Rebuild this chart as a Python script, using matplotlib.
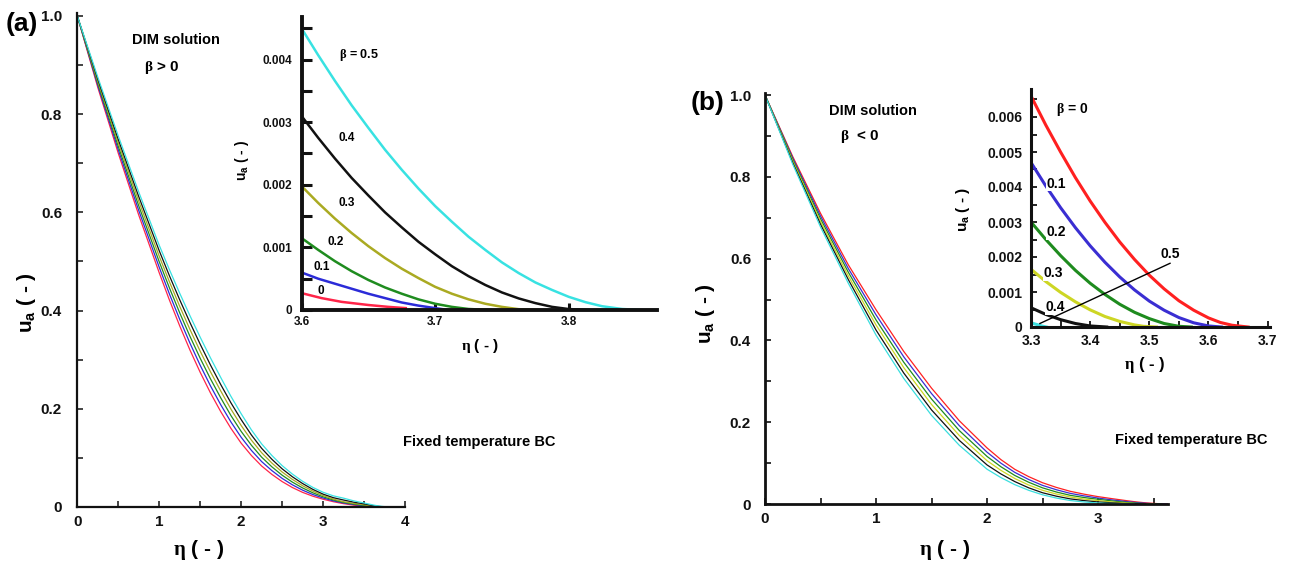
import matplotlib
matplotlib.use("Agg")
import matplotlib.pyplot as plt
from matplotlib.ticker import MultipleLocator

# ---------------- data: panel (a), beta > 0 ----------------
betas_a = ["0", "0.1", "0.2", "0.3", "0.4", "0.5"]
colors_a = ["#ff2448", "#2b2bd8", "#1f8c1f", "#aaaa22", "#111111", "#38e2e2"]

grid_a = [0, 0.25, 0.5, 0.75, 1.0, 1.125, 1.25, 1.375, 1.5, 1.625, 1.75, 1.875, 2.0, 2.125, 2.25, 2.375,
          2.5, 2.625, 2.75, 2.875, 3.0, 3.125, 3.25, 3.375, 3.5]

eta_a0 = grid_a + [3.6, 3.615, 3.63, 3.65, 3.665, 3.678]
u_a0 = [1.0, 0.8545, 0.7205, 0.5945, 0.477, 0.4212, 0.3688, 0.3197, 0.2743, 0.2325, 0.1945, 0.1602, 0.130,
        0.1049, 0.0835, 0.0664, 0.0518, 0.0397, 0.0298, 0.022, 0.0158, 0.0108, 0.0068, 0.0038, 0.0015,
        0.00027, 0.00019, 0.00013, 0.00008, 0.00005, 0.00003]
eta_a1 = grid_a + [3.6, 3.6125, 3.625, 3.6375, 3.65, 3.6625, 3.675, 3.6875, 3.7, 3.71]
u_a1 = [1.0, 0.8587, 0.7275, 0.6039, 0.4882, 0.4336, 0.3821, 0.3337, 0.2886, 0.2469, 0.2085, 0.1732, 0.142,
        0.1153, 0.0925, 0.0741, 0.0583, 0.0452, 0.0343, 0.0254, 0.0183, 0.0125, 0.0081, 0.005, 0.0025,
        0.0006, 0.0005, 0.00042, 0.00034, 0.00026, 0.00019, 0.00012, 0.00007, 0.00003, 0.0]
eta_a2 = grid_a + [3.6, 3.6125, 3.625, 3.6375, 3.65, 3.6625, 3.675, 3.6875, 3.7, 3.7125, 3.725, 3.742]
u_a2 = [1.0, 0.8629, 0.7345, 0.6133, 0.4994, 0.446, 0.3954, 0.3476, 0.3029, 0.2612, 0.2225, 0.1863, 0.154,
        0.1258, 0.1015, 0.0818, 0.0648, 0.0507, 0.0388, 0.0289, 0.0208, 0.0143, 0.0094, 0.006, 0.0035,
        0.00115, 0.00096, 0.00078, 0.00062, 0.00048, 0.00036, 0.00026, 0.00017, 0.0001, 0.00005, 0.000016, 0.0]
eta_a3 = grid_a + [3.6, 3.6125, 3.625, 3.6375, 3.65, 3.6625, 3.675, 3.6875, 3.7, 3.7125, 3.725, 3.7375,
                   3.75, 3.7625, 3.777]
u_a3 = [1.0, 0.8671, 0.7415, 0.6227, 0.5106, 0.4584, 0.4087, 0.3616, 0.3172, 0.2755, 0.2365, 0.1994, 0.166,
        0.1362, 0.1105, 0.0895, 0.0713, 0.0562, 0.0433, 0.0324, 0.0233, 0.0161, 0.0107, 0.0073, 0.0045,
        0.00198, 0.00171, 0.00146, 0.00123, 0.00102, 0.00083, 0.00066, 0.00051, 0.00037, 0.00026, 0.00017,
        0.0001, 0.00005, 0.000013, 0.0]
eta_a4 = grid_a + [3.6, 3.6125, 3.625, 3.6375, 3.65, 3.6625, 3.675, 3.6875, 3.7, 3.7125, 3.725, 3.7375,
                   3.75, 3.7625, 3.775, 3.7875, 3.8, 3.815]
u_a4 = [1.0, 0.8713, 0.7485, 0.6321, 0.5218, 0.4707, 0.422, 0.3757, 0.3315, 0.2893, 0.2496, 0.2122, 0.178,
        0.1467, 0.1195, 0.0972, 0.0778, 0.0616, 0.0478, 0.0359, 0.0262, 0.019, 0.0142, 0.0098, 0.0064,
        0.0031, 0.00275, 0.00242, 0.00211, 0.00183, 0.00156, 0.00132, 0.00109, 0.00089, 0.0007, 0.00054,
        0.0004, 0.00028, 0.000185, 0.00011, 0.00005, 0.000015, 0.0]
eta_a5 = grid_a + [3.6, 3.6125, 3.625, 3.6375, 3.65, 3.6625, 3.675, 3.6875, 3.7, 3.7125, 3.725, 3.7375,
                   3.75, 3.7625, 3.775, 3.7875, 3.8, 3.8125, 3.825, 3.84, 3.855]
u_a5 = [1.0, 0.8755, 0.7555, 0.6415, 0.533, 0.4831, 0.4353, 0.3896, 0.3458, 0.3039, 0.264, 0.2254, 0.19,
        0.1571, 0.1285, 0.1049, 0.0843, 0.0671, 0.0523, 0.0399, 0.030, 0.0227, 0.018, 0.0125, 0.0082,
        0.0045, 0.00407, 0.00366, 0.00327, 0.00291, 0.00256, 0.00224, 0.00194, 0.00166, 0.00141, 0.00117,
        0.00096, 0.00076, 0.00059, 0.00044, 0.00032, 0.00021, 0.000125, 0.00006, 0.000016, 0.0]

# ---------------- data: panel (b), beta < 0 ----------------
betas_b = ["0", "0.1", "0.2", "0.3", "0.4", "0.5"]
colors_b = ["#ff2020", "#3a2ed2", "#1e8b1e", "#cdd624", "#111111", "#3adede"]

grid_b = [0, 0.25, 0.5, 0.75, 1.0, 1.25, 1.5, 1.75, 2.0, 2.125, 2.25, 2.375, 2.5, 2.625, 2.75, 2.875,
          3.0, 3.125, 3.25, 3.3]

eta_b0 = grid_b + [3.325, 3.35, 3.375, 3.4, 3.425, 3.45, 3.475, 3.5, 3.525, 3.55, 3.575, 3.6, 3.62, 3.64, 3.667]
u_b0 = [1.0, 0.8493, 0.7108, 0.585, 0.475, 0.373, 0.2833, 0.2036, 0.1371, 0.1085, 0.0848, 0.0669, 0.052,
        0.0405, 0.031, 0.024, 0.018, 0.0131, 0.0084, 0.0066,
        0.00577, 0.0050, 0.00427, 0.0036, 0.00299, 0.00243, 0.00193, 0.00148, 0.00109, 0.00075, 0.00048,
        0.00026, 0.00013, 0.00005, 0.0]
eta_b1 = grid_b + [3.325, 3.35, 3.375, 3.4, 3.425, 3.45, 3.475, 3.5, 3.525, 3.55, 3.575, 3.6, 3.622]
u_b1 = [1.0, 0.8456, 0.7041, 0.576, 0.4626, 0.3598, 0.27, 0.1916, 0.1267, 0.0998, 0.0773, 0.0599, 0.0455,
        0.0348, 0.026, 0.0198, 0.0145, 0.01, 0.0062, 0.0047,
        0.00403, 0.00341, 0.00284, 0.00232, 0.00185, 0.00143, 0.00106, 0.00074, 0.00048, 0.00027, 0.00012,
        0.00003, 0.0]
eta_b2 = grid_b + [3.325, 3.35, 3.375, 3.4, 3.425, 3.45, 3.475, 3.5, 3.525, 3.55, 3.571]
u_b2 = [1.0, 0.8419, 0.6974, 0.567, 0.4502, 0.3466, 0.2567, 0.1796, 0.1163, 0.0911, 0.0698, 0.0532, 0.0395,
        0.0293, 0.0212, 0.0158, 0.0115, 0.0075, 0.0041, 0.003,
        0.0025, 0.00204, 0.00162, 0.00125, 0.00093, 0.00065, 0.00042, 0.00024, 0.0001, 0.00002, 0.0]
eta_b3 = grid_b + [3.325, 3.35, 3.375, 3.4, 3.425, 3.45, 3.475, 3.49, 3.512]
u_b3 = [1.0, 0.8382, 0.6907, 0.558, 0.4378, 0.3334, 0.2434, 0.1676, 0.1059, 0.0822, 0.0623, 0.0464, 0.0335,
        0.0243, 0.017, 0.012, 0.0082, 0.005, 0.0024, 0.00165,
        0.0013, 0.00099, 0.00072, 0.00049, 0.0003, 0.00016, 0.00006, 0.00002, 0.0]
eta_b4 = grid_b + [3.325, 3.35, 3.375, 3.4, 3.428]
u_b4 = [1.0, 0.8345, 0.684, 0.549, 0.4254, 0.3202, 0.2301, 0.1556, 0.0955, 0.0735, 0.0548, 0.0396, 0.0275,
        0.0191, 0.0125, 0.0083, 0.005, 0.0028, 0.001, 0.00055,
        0.00036, 0.00021, 0.0001, 0.00003, 0.0]
eta_b5 = grid_b + [3.31, 3.318, 3.326]
u_b5 = [1.0, 0.8308, 0.6773, 0.54, 0.413, 0.307, 0.2168, 0.1436, 0.0851, 0.0646, 0.0473, 0.0335, 0.0225,
        0.0145, 0.0085, 0.005, 0.0025, 0.0012, 0.0004, 0.00012,
        0.00007, 0.00003, 0.0]

# ---------------- ticks ----------------
main_yticks = [0, 0.2, 0.4, 0.6, 0.8, 1.0]
main_ylabels = ["0", "0.2", "0.4", "0.6", "0.8", "1.0"]
main_a_xticks = [0, 1, 2, 3, 4]
main_a_xlabels = ["0", "1", "2", "3", "4"]
main_b_xticks = [0, 1, 2, 3]
main_b_xlabels = ["0", "1", "2", "3"]
ins_a_yticks = [0, 0.001, 0.002, 0.003, 0.004]
ins_a_ylabels = ["0", "0.001", "0.002", "0.003", "0.004"]
ins_a_xticks = [3.6, 3.7, 3.8]
ins_a_xlabels = ["3.6", "3.7", "3.8"]
ins_b_yticks = [0, 0.001, 0.002, 0.003, 0.004, 0.005, 0.006]
ins_b_ylabels = ["0", "0.001", "0.002", "0.003", "0.004", "0.005", "0.006"]
ins_b_xticks = [3.3, 3.4, 3.5, 3.6, 3.7]
ins_b_xlabels = ["3.3", "3.4", "3.5", "3.6", "3.7"]

series_a = [(eta_a0, u_a0), (eta_a1, u_a1), (eta_a2, u_a2), (eta_a3, u_a3), (eta_a4, u_a4), (eta_a5, u_a5)]
series_b = [(eta_b0, u_b0), (eta_b1, u_b1), (eta_b2, u_b2), (eta_b3, u_b3), (eta_b4, u_b4), (eta_b5, u_b5)]

plt.rcParams.update({
    "font.family": ["Liberation Sans", "DejaVu Sans"],
    "font.weight": "bold",
    "mathtext.fontset": "custom",
    "mathtext.rm": "Liberation Serif",
    "mathtext.bf": "Liberation Sans:bold",
    "mathtext.it": "Liberation Serif:italic",
    "mathtext.sf": "Liberation Sans",
    "lines.solid_joinstyle": "round",
})

W, H = 1289, 562
fig = plt.figure(figsize=(W / 100, H / 100), dpi=100)


def box(l, t, r, b):
    return [l / W, 1 - b / H, (r - l) / W, (b - t) / H]


def style(ax, lw, tl, tw, fs, padx, pady):
    for s in ["top", "right"]:
        ax.spines[s].set_visible(False)
    for s in ["left", "bottom"]:
        ax.spines[s].set_linewidth(lw)
        ax.spines[s].set_color("#111111")
    ax.tick_params(which="both", direction="in", length=tl, width=tw, labelsize=fs,
                   top=False, right=False, colors="#111111")
    ax.tick_params(axis="x", which="both", pad=padx)
    ax.tick_params(axis="y", which="both", pad=pady)
    ax.set_facecolor("none")


def ftext(px, py, s, **kw):
    fig.text(px / W, 1 - py / H, s, **kw)


# ---------------- main (a) ----------------
axA = fig.add_axes(box(77.3, 13, 405, 507))
for (e, u), c in zip(series_a, colors_a):
    axA.plot(e, u, color=c, lw=0.9)
axA.set_xlim(0, 4.0)
axA.set_ylim(0, 1.006)
axA.set_xticks(main_a_xticks, main_a_xlabels)
axA.set_yticks(main_yticks, main_ylabels)
axA.xaxis.set_minor_locator(MultipleLocator(0.5))
axA.yaxis.set_minor_locator(MultipleLocator(0.1))
style(axA, 1.6, 4.5, 1.1, 11, 6, 11)

# ---------------- inset (a) ----------------
axIA = fig.add_axes(box(301.5, 17, 657, 310))
for (e, u), c in zip(series_a, colors_a):
    axIA.plot(e, u, color=c, lw=1.8)
axIA.set_xlim(3.6, 3.866)
axIA.set_ylim(0, 0.00468)
axIA.set_xticks(ins_a_xticks, ins_a_xlabels)
axIA.set_yticks(ins_a_yticks, ins_a_ylabels)
axIA.yaxis.set_minor_locator(MultipleLocator(0.0005))
style(axIA, 2.8, 7, 2.2, 8.5, 4, 6.5)
axIA.tick_params(axis="x", length=5)
inset_a_lab_pos = [(3.6142, 0.00031), (3.6154, 0.00069), (3.6254, 0.00109),
                   (3.6336, 0.00171), (3.6336, 0.00274)]
for (x, y), t in zip(inset_a_lab_pos, betas_a[:5]):
    axIA.text(x, y, t, fontsize=8.5, ha="center", va="center")
axIA.text(3.6429, 0.00407, r"$\mathrm{\beta}$ = " + betas_a[5], fontsize=9, ha="center", va="center")

# ---------------- main (b) ----------------
axB = fig.add_axes(box(765, 93, 1168, 504))
for (e, u), c in zip(series_b, colors_b):
    axB.plot(e, u, color=c, lw=0.9)
axB.set_xlim(0, 3.63)
axB.set_ylim(0, 1.005)
axB.set_xticks(main_b_xticks, main_b_xlabels)
axB.set_yticks(main_yticks, main_ylabels)
axB.xaxis.set_minor_locator(MultipleLocator(0.5))
axB.yaxis.set_minor_locator(MultipleLocator(0.1))
style(axB, 2.0, 4.5, 1.2, 11, 6, 10)

# ---------------- inset (b) ----------------
axIB = fig.add_axes(box(1031, 89, 1270, 327))
for (e, u), c in zip(series_b, colors_b):
    axIB.plot(e, u, color=c, lw=2.2)
axIB.set_xlim(3.3, 3.704)
axIB.set_ylim(0, 0.0068)
axIB.set_xticks(ins_b_xticks, ins_b_xlabels)
axIB.set_yticks(ins_b_yticks, ins_b_ylabels)
axIB.yaxis.set_minor_locator(MultipleLocator(0.0005))
axIB.xaxis.set_minor_locator(MultipleLocator(0.05))
style(axIB, 2.2, 4, 1.3, 10, 5, 6)
inset_b_lab_pos = [(3.343, 0.0041), (3.343, 0.00272), (3.338, 0.00153), (3.341, 0.00058)]
for (x, y), t in zip(inset_b_lab_pos, betas_b[1:5]):
    axIB.text(x, y, t, fontsize=10, ha="center", va="center", zorder=5,
              bbox=dict(facecolor="white", edgecolor="none", pad=0.6))
axIB.text(3.369, 0.00622, r"$\mathrm{\beta}$ = " + betas_b[0], fontsize=10, ha="center", va="center")
axIB.plot([3.315, 3.535], [0.0001, 0.00182], color="black", lw=1.0, zorder=6)
axIB.text(3.535, 0.00188, betas_b[5], fontsize=10, ha="center", va="bottom")

# ---------------- labels and annotations ----------------
ylab = r"$\mathbf{u}_{\mathbf{a}}$ ( - )"
xlab = r"$\mathrm{\eta}$ ( - )"
ftext(27, 303, ylab, fontsize=15, rotation=90, ha="center", va="center")
ftext(199, 550, xlab, fontsize=15, ha="center", va="center")
ftext(706, 314, ylab, fontsize=15, rotation=90, ha="center", va="center")
ftext(945, 550, xlab, fontsize=15, ha="center", va="center")
ftext(242, 160, ylab, fontsize=10, rotation=90, ha="center", va="center")
ftext(480, 346, xlab, fontsize=11, ha="center", va="center")
ftext(963, 210, ylab, fontsize=11, rotation=90, ha="center", va="center")
ftext(1145, 365, xlab, fontsize=12, ha="center", va="center")

ftext(22, 24, "(a)", fontsize=19, ha="center", va="center")
ftext(708, 103, "(b)", fontsize=19, ha="center", va="center")
ftext(176, 40, "DIM solution", fontsize=10.5, ha="center", va="center")
ftext(162, 67, r"$\mathrm{\beta}$ > 0", fontsize=11, ha="center", va="center")
ftext(873, 111, "DIM solution", fontsize=10.5, ha="center", va="center")
ftext(860, 137, r"$\mathrm{\beta}$  < 0", fontsize=11, ha="center", va="center")
ftext(403, 442, "Fixed temperature BC", fontsize=10.5, ha="left", va="center")
ftext(1115, 440, "Fixed temperature BC", fontsize=10.5, ha="left", va="center")

fig.savefig("out.png", dpi=100, facecolor="white")
